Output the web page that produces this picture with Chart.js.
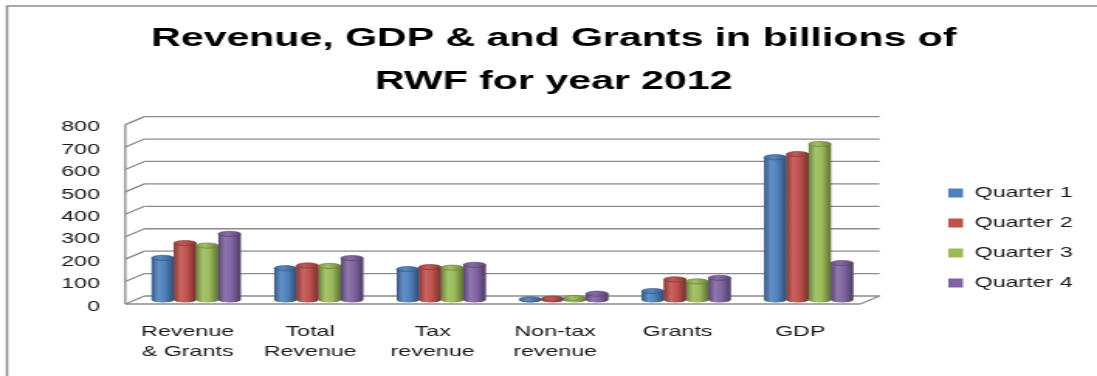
<!DOCTYPE html>
<html lang="en">
<head>
    <meta charset="UTF-8">
    <title>Revenue, GDP & Grants 2012</title>
    <script src="https://cdn.jsdelivr.net/npm/chart.js"></script>
    <style>
        html, body {
            margin: 0;
            padding: 0;
            background: #fff;
        }
        #revenueChart {
            display: block;
        }
    </style>
</head>
<body>
<!-- drawn narrow and stretched wide, like the original sheet chart -->
<canvas id="revenueChart" width="708" height="376" style="width:1097px;height:376px"></canvas>

<script>
    // categories on the x axis (two-line labels)
    const categories = [
        ['Revenue', '& Grants'],
        ['Total', 'Revenue'],
        ['Tax', 'revenue'],
        ['Non-tax', 'revenue'],
        'Grants',
        'GDP'
    ];
    const seriesNames = ['Quarter 1', 'Quarter 2', 'Quarter 3', 'Quarter 4'];

    // billions of RWF
    const quarter1 = [188, 142, 138, 3, 40, 637];
    const quarter2 = [254, 154, 147, 6, 92, 651];
    const quarter3 = [243, 152, 144, 9, 83, 696];
    const quarter4 = [295, 187, 157, 28, 99, 165];

    const yMin = 0;
    const yMax = 800;
    const yStep = 100;

    const colors = ['#4F81BD', '#C0504D', '#9BBB59', '#8064A2'];

    // lighten (amt > 0) or darken (amt < 0) a hex colour
    function shade(hex, amt) {
        const n = parseInt(hex.slice(1), 16);
        const f = c => Math.round(amt < 0 ? c * (1 + amt) : c + (255 - c) * amt);
        return `rgb(${f(n >> 16)},${f((n >> 8) & 255)},${f(n & 255)})`;
    }

    const DX = 6.2;   // half depth of the 3D box, horizontal
    const DY = 4;     // half depth of the 3D box, vertical
    const GRID = '#8a8a8a';

    // white background + outer frame
    const frame = {
        id: 'frame',
        beforeDraw(chart) {
            const ctx = chart.ctx;
            ctx.save();
            ctx.fillStyle = '#fff';
            ctx.fillRect(0, 0, chart.width, chart.height);
            ctx.strokeStyle = '#8c8c8c';
            ctx.lineWidth = 1.5;
            ctx.strokeRect(4.5, 6, chart.width + 20, chart.height + 20);
            ctx.restore();
        }
    };

    // back wall, side wall and floor of the 3D plot box
    const walls = {
        id: 'walls',
        beforeDatasetsDraw(chart) {
            const {ctx, chartArea} = chart;
            const {left, right} = chartArea;
            const y = chart.scales.y;
            const line = (x1, y1, x2, y2) => {
                ctx.beginPath();
                ctx.moveTo(x1, y1);
                ctx.lineTo(x2, y2);
                ctx.stroke();
            };
            ctx.save();
            ctx.strokeStyle = GRID;
            ctx.lineWidth = 1.3;
            for (let v = yMin; v <= yMax; v += yStep) {
                const py = y.getPixelForValue(v);
                line(left + DX, py - DY, right + DX, py - DY);
                line(left - DX, py + DY, left + DX, py - DY);
            }
            const y0 = y.getPixelForValue(yMin);
            const yTop = y.getPixelForValue(yMax);
            line(left - DX, yTop + DY, left - DX, y0 + DY);
            line(left - DX, y0 + DY, right - DX, y0 + DY);
            line(right - DX, y0 + DY, right + DX, y0 - DY);
            ctx.restore();
        }
    };

    // cylinder shading over each bar
    const cylinders = {
        id: 'cylinders',
        afterDatasetsDraw(chart) {
            const ctx = chart.ctx;
            const RY = 2.6;
            ctx.save();
            chart.data.datasets.forEach((ds, i) => {
                const meta = chart.getDatasetMeta(i);
                const base = colors[i];
                meta.data.forEach(bar => {
                    const {x, y, base: b, width} = bar.getProps(['x', 'y', 'base', 'width'], true);
                    const l = x - width / 2;
                    const g = ctx.createLinearGradient(l, 0, l + width, 0);
                    g.addColorStop(0, shade(base, -0.3));
                    g.addColorStop(0.3, shade(base, 0.12));
                    g.addColorStop(0.6, base);
                    g.addColorStop(1, shade(base, -0.4));
                    ctx.fillStyle = g;
                    ctx.beginPath();
                    ctx.moveTo(l, y);
                    ctx.lineTo(l, b);
                    ctx.ellipse(x, b, width / 2, RY, 0, Math.PI, 0, true);
                    ctx.lineTo(l + width, y);
                    ctx.closePath();
                    ctx.fill();
                    // top cap
                    const cap = ctx.createLinearGradient(l, 0, l + width, 0);
                    cap.addColorStop(0, shade(base, -0.15));
                    cap.addColorStop(0.4, shade(base, 0.05));
                    cap.addColorStop(1, shade(base, -0.3));
                    ctx.fillStyle = cap;
                    ctx.strokeStyle = shade(base, -0.35);
                    ctx.lineWidth = 0.6;
                    ctx.beginPath();
                    ctx.ellipse(x, y, width / 2, RY, 0, 0, Math.PI * 2);
                    ctx.fill();
                    ctx.stroke();
                });
            });
            ctx.restore();
        }
    };

    // legend sits a little away from the plot box, title a bit right of centre
    const placeBlocks = {
        id: 'placeBlocks',
        afterLayout(chart) {
            const lg = chart.legend;
            const w = lg.width, h = lg.height;
            lg.left = 597;
            lg.right = lg.left + w;
            lg.top = 170.5;
            lg.bottom = lg.top + h;
            const t = chart.titleBlock;
            t.left += 14;
            t.right += 14;
        }
    };

    Chart.defaults.font.family = "'Liberation Sans', Arial, sans-serif";
    Chart.defaults.color = '#1a1a1a';

    const seriesData = [quarter1, quarter2, quarter3, quarter4];

    const chart = new Chart(document.getElementById('revenueChart'), {
        type: 'bar',
        data: {
            labels: categories,
            datasets: seriesNames.map((name, i) => ({
                label: name,
                data: seriesData[i],
                backgroundColor: colors[i],
                borderWidth: 0,
                barPercentage: 1,
                categoryPercentage: 0.726
            }))
        },
        options: {
            responsive: false,
            devicePixelRatio: 1,
            animation: false,
            layout: {
                padding: {left: 20, right: 41.2, top: 0, bottom: 6}
            },
            plugins: {
                title: {
                    display: true,
                    text: ['Revenue, GDP & and Grants in billions of', 'RWF for year 2012'],
                    color: '#000',
                    font: {size: 26.5, weight: 'bold', lineHeight: 1.64},
                    padding: {top: 16.8, bottom: 16.9}
                },
                legend: {
                    position: 'right',
                    align: 'start',
                    labels: {
                        boxWidth: 9.5,
                        boxHeight: 9,
                        padding: 15,
                        font: {size: 15}
                    }
                },
                tooltip: {enabled: false}
            },
            scales: {
                x: {
                    grid: {display: false, drawTicks: false},
                    border: {display: false},
                    ticks: {
                        autoSkip: false,
                        maxRotation: 0,
                        padding: 21.5,
                        labelOffset: -5.5,
                        font: {size: 15, lineHeight: 1.36}
                    },
                    afterFit(axis) { axis.height = 70; }
                },
                y: {
                    min: yMin,
                    max: yMax,
                    grid: {display: false, drawTicks: false},
                    border: {display: false},
                    ticks: {
                        stepSize: yStep,
                        padding: 22.5,
                        labelOffset: 6.5,
                        font: {size: 15}
                    },
                    afterFit(axis) { axis.width = 67.05; }
                }
            }
        },
        plugins: [frame, walls, cylinders, placeBlocks]
    });
</script>
</body>
</html>
